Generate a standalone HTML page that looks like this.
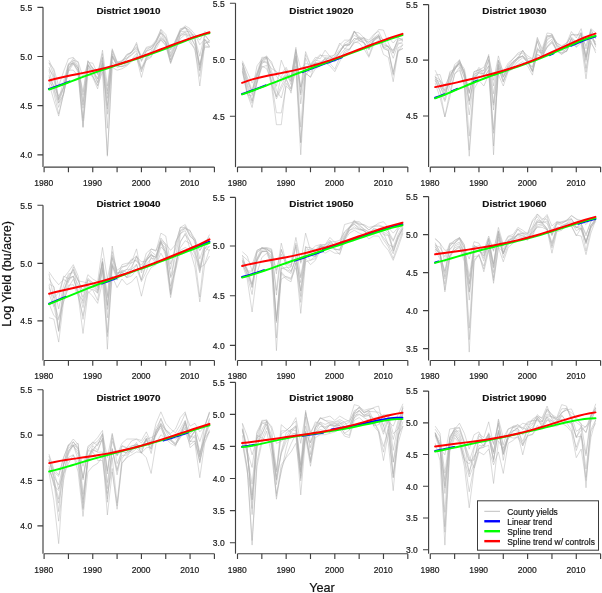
<!DOCTYPE html><html><head><meta charset="utf-8"><style>html,body{margin:0;padding:0;background:#fff;overflow:hidden}svg{display:block;filter:blur(0.3px)}</style></head><body>
<svg width="602" height="593" viewBox="0 0 602 593" font-family="&quot;Liberation Sans&quot;, sans-serif">
<rect width="602" height="593" fill="#fff"/>
<g>
<g fill="none" stroke="#acacac" stroke-width="0.45" stroke-linejoin="round">
<polyline points="48.97,67.14 53.83,79.39 58.7,103.21 63.56,88.16 68.43,65.33 73.3,63.29 78.16,70.9 83.03,104.96 87.89,65.12 92.76,69.16 97.63,79.1 102.49,57.11 107.36,114.28 112.22,57.2 117.09,65.29 121.96,64.07 126.82,59.13 131.69,54.99 136.55,50.85 141.42,68.09 146.29,57.19 151.15,51.19 156.02,40.13 160.88,31.91 165.75,39.52 170.62,55.79 175.48,42.21 180.35,29.9 185.21,25.8 190.08,28.67 194.95,34.4 199.81,44.7 204.68,39.5 209.54,46.55"/>
<polyline points="48.97,62.57 53.83,74.98 58.7,100.31 63.56,88.06 68.43,65.51 73.3,58.17 78.16,66.63 83.03,108.2 87.89,62.61 92.76,63.07 97.63,73.81 102.49,53.57 107.36,128.22 112.22,55.56 117.09,63.16 121.96,60.2 126.82,57.95 131.69,54.73 136.55,48.85 141.42,57.57 146.29,47.3 151.15,45.87 156.02,40.46 160.88,29.24 165.75,34.4 170.62,50 175.48,40.88 180.35,28.67 185.21,27.9 190.08,35.19 194.95,34.74 199.81,40.13 204.68,31.53 209.54,34.4"/>
<polyline points="48.97,69.16 53.83,76.12 58.7,99.61 63.56,81.29 68.43,63.62 73.3,60.59 78.16,68.32 83.03,95.12 87.89,60.77 92.76,69.26 97.63,82.22 102.49,60.76 107.36,94.15 112.22,53.79 117.09,65.06 121.96,63.56 126.82,58.72 131.69,51.86 136.55,47.76 141.42,56.31 146.29,50.13 151.15,46.76 156.02,42.55 160.88,32.95 165.75,42.66 170.62,59.7 175.48,44.89 180.35,31.06 185.21,26.94 190.08,32.5 194.95,39.57 199.81,70.08 204.68,35.19 209.54,40.8"/>
<polyline points="48.97,83.13 53.83,100.33 58.7,116.1 63.56,93.65 68.43,70.03 73.3,70.23 78.16,75.97 83.03,126.85 87.89,74.53 92.76,76.28 97.63,85.92 102.49,71.67 107.36,154.99 112.22,67.37 117.09,70.23 121.96,68.8 126.82,65.93 131.69,61.63 136.55,57.25 141.42,77.4 146.29,58.81 151.15,56.23 156.02,44.91 160.88,40.13 165.75,44.53 170.62,62.49 175.48,49.97 180.35,38.7 185.21,34.4 190.08,43 194.95,48.5 199.81,86 204.68,45.79 209.54,46.89"/>
<polyline points="48.97,76.95 53.83,85.89 58.7,96.2 63.56,87.34 68.43,64.29 73.3,62.83 78.16,68.01 83.03,91.72 87.89,60.83 92.76,68.02 97.63,73.1 102.49,57.91 107.36,90.83 112.22,50.04 117.09,62.33 121.96,61.49 126.82,54.55 131.69,52.78 136.55,42.43 141.42,61.54 146.29,51.28 151.15,49.23 156.02,44.21 160.88,36.5 165.75,42.27 170.62,57.02 175.48,44.75 180.35,31.75 185.21,31.23 190.08,31.83 194.95,36.95 199.81,67.95 204.68,39.02 209.54,46.6"/>
<polyline points="48.97,60.2 53.83,70.94 58.7,98.6 63.56,87.27 68.43,68.88 73.3,60.33 78.16,61.63 83.03,77.4 87.89,63.83 92.76,67.62 97.63,74.66 102.49,50.17 107.36,86 112.22,48.73 117.09,61.63 121.96,62.8 126.82,55.94 131.69,51.6 136.55,44.13 141.42,60.48 146.29,50.97 151.15,48.87 156.02,42.48 160.88,29.82 165.75,38.24 170.62,48.73 175.48,41.98 180.35,31.07 185.21,27.85 190.08,30.39 194.95,38.7 199.81,56.21 204.68,34.19 209.54,41.29"/>
<polyline points="48.97,70.53 53.83,87.89 58.7,102.83 63.56,94.6 68.43,67.82 73.3,63.41 78.16,70.34 83.03,120.95 87.89,65.36 92.76,71.59 97.63,78.58 102.49,62.61 107.36,156.23 112.22,61.79 117.09,67.42 121.96,66.05 126.82,63.43 131.69,59.42 136.55,56.39 141.42,68.97 146.29,60.2 151.15,57.33 156.02,46.06 160.88,38.14 165.75,43.08 170.62,62.36 175.48,47.36 180.35,33.96 185.21,32.11 190.08,35.97 194.95,44.87 199.81,71.11 204.68,43.63 209.54,40.99"/>
<polyline points="48.97,81.03 53.83,89.09 58.7,107.37 63.56,92.75 68.43,71.67 73.3,63.97 78.16,72.19 83.03,127.57 87.89,67.58 92.76,77.4 97.63,88.87 102.49,66.47 107.36,109.06 112.22,56.16 117.09,65.82 121.96,66.69 126.82,65.06 131.69,59.94 136.55,58.77 141.42,70.35 146.29,59.45 151.15,52.33 156.02,48.73 160.88,39.82 165.75,45.87 170.62,63.64 175.48,50.02 180.35,35.65 185.21,32.59 190.08,39.99 194.95,50.17 199.81,76.51 204.68,42.99 209.54,42.34"/>
<polyline points="48.97,75.16 53.83,93.16 58.7,113.9 63.56,94.13 68.43,69.92 73.3,62.21 78.16,68.22 83.03,118.28 87.89,65.37 92.76,76.06 97.63,85.4 102.49,63.14 107.36,105.6 112.22,55.88 117.09,66.1 121.96,66.52 126.82,64.86 131.69,59.7 136.55,53.33 141.42,71.91 146.29,57.37 151.15,52.82 156.02,45.61 160.88,38.73 165.75,42.44 170.62,59.85 175.48,50.17 180.35,35.43 185.21,34.24 190.08,36.36 194.95,45.49 199.81,64.69 204.68,47.3 209.54,47.3"/>
<polyline points="48.97,62.98 53.83,68.8 58.7,86 63.56,71.67 68.43,58.77 73.3,57.33 78.16,62.98 83.03,101.43 87.89,64.73 92.76,72.39 97.63,82.83 102.49,64.33 107.36,98.35 112.22,51.34 117.09,63.34 121.96,61.42 126.82,54.47 131.69,52.04 136.55,46.62 141.42,55.9 146.29,48.34 151.15,47.27 156.02,41.88 160.88,32.87 165.75,37.37 170.62,53.36 175.48,40.13 180.35,30.35 185.21,27.12 190.08,35.74 194.95,40.54 199.81,65.11 204.68,39.92 209.54,42.38"/>
</g>
<polyline points="48.87,89.02 50.62,88.49 52.36,87.89 54.11,87.29 55.85,86.66 57.59,86.02 59.34,85.38 61.08,84.73 62.82,84.07 64.57,83.4 66.31,82.74 68.06,82.07 69.8,81.4" fill="none" stroke="#0000ff" stroke-width="1.95" stroke-linecap="round"/>
<polyline points="49.1,89.52 54.63,87.61 60.16,85.58 65.69,83.48 71.23,81.35 76.76,79.23 82.29,77.14 87.82,75.09 93.35,73.1 98.88,71.17 104.41,69.29 109.94,67.46 115.47,65.66 121,63.88 126.53,62.1 132.06,60.32 137.59,58.5 143.12,56.66 148.66,54.76 154.19,52.8 159.72,50.79 165.25,48.72 170.78,46.6 176.31,44.46 181.84,42.31 187.37,40.19 192.9,38.15 198.43,36.25 203.96,34.55 209.49,33.13" fill="none" stroke="#00ff00" stroke-width="1.95" stroke-linejoin="round" stroke-linecap="round"/>
<polyline points="49.1,80.5 54.63,79 60.16,77.68 65.69,76.46 71.23,75.32 76.76,74.21 82.29,73.09 87.82,71.94 93.35,70.74 98.88,69.46 104.41,68.1 109.94,66.65 115.47,65.1 121,63.45 126.53,61.71 132.06,59.88 137.59,57.96 143.12,55.98 148.66,53.95 154.19,51.86 159.72,49.76 165.25,47.64 170.78,45.52 176.31,43.43 181.84,41.38 187.37,39.38 192.9,37.45 198.43,35.6 203.96,33.85 209.49,32.2" fill="none" stroke="#ff0000" stroke-width="1.95" stroke-linejoin="round" stroke-linecap="round"/>
<path d="M43,7.3V167.1" stroke="#404040" stroke-width="1.15" fill="none"/>
<path d="M44.1,167.1H214.41" stroke="#404040" stroke-width="1.15" fill="none"/>
<path d="M44.1,167.1v5.2M68.43,167.1v5.2M92.76,167.1v5.2M117.09,167.1v5.2M141.42,167.1v5.2M165.75,167.1v5.2M190.08,167.1v5.2M214.41,167.1v5.2M43,7.3h-5.6M43,56.45h-5.6M43,105.6h-5.6M43,154.8h-5.6" stroke="#404040" stroke-width="1.15" fill="none"/>
<g font-size="8.5" fill="#1a1a1a" stroke="#1a1a1a" stroke-width="0.2">
<text x="32.2" y="10.6" text-anchor="end">5.5</text>
<text x="32.2" y="59.75" text-anchor="end">5.0</text>
<text x="32.2" y="108.9" text-anchor="end">4.5</text>
<text x="32.2" y="158.1" text-anchor="end">4.0</text>
<text x="43.8" y="185.9" text-anchor="middle">1980</text>
<text x="92.46" y="185.9" text-anchor="middle">1990</text>
<text x="141.12" y="185.9" text-anchor="middle">2000</text>
<text x="189.78" y="185.9" text-anchor="middle">2010</text>
</g>
<text x="128.5" y="14.4" text-anchor="middle" font-size="9.9" font-weight="bold" fill="#111" stroke="#111" stroke-width="0.15">District 19010</text>
</g>
<g>
<g fill="none" stroke="#acacac" stroke-width="0.45" stroke-linejoin="round">
<polyline points="242.37,68.98 247.23,89.26 252.1,100.59 256.96,81.01 261.83,65.99 266.7,68.8 271.56,80.74 276.43,98.94 281.29,88.64 286.16,78.88 291.03,88.5 295.89,58.28 300.76,87 305.62,72.93 310.49,77.4 315.36,62.64 320.22,62.73 325.09,58.63 329.95,62.66 334.82,59.41 339.69,51.83 344.55,44.7 349.42,44.72 354.28,38.51 359.15,40.32 364.02,37.27 368.88,47.62 373.75,39.37 378.61,37.21 383.48,43.16 388.35,47.22 393.21,53.25 398.08,42.81 402.94,44.09"/>
<polyline points="242.37,66.7 247.23,84.22 252.1,94.6 256.96,76.1 261.83,61.52 266.7,57.32 271.56,70.93 276.43,90.56 281.29,98 286.16,79.03 291.03,93.17 295.89,65.87 300.76,142.72 305.62,69.55 310.49,72.19 315.36,65.89 320.22,65.66 325.09,57.73 329.95,58.93 334.82,54.47 339.69,43 344.55,48.75 349.42,49.44 354.28,40.7 359.15,37.24 364.02,42.6 368.88,49.4 373.75,40.32 378.61,35.55 383.48,48.71 388.35,50.49 393.21,75.38 398.08,47.76 402.94,45.05"/>
<polyline points="242.37,63.83 247.23,81.18 252.1,92.01 256.96,73.38 261.83,60.93 266.7,61.88 271.56,68.53 276.43,71.67 281.29,77.83 286.16,75.78 291.03,81.21 295.89,51.96 300.76,94.99 305.62,58.16 310.49,69.14 315.36,61.68 320.22,55.48 325.09,55.74 329.95,56.17 334.82,62.07 339.69,55.02 344.55,49.4 349.42,43.12 354.28,32 359.15,32.97 364.02,37.93 368.88,42.53 373.75,35.66 378.61,29.53 383.48,30.1 388.35,43.01 393.21,53.22 398.08,37.85 402.94,40.1"/>
<polyline points="242.37,60.77 247.23,71.67 252.1,83.13 256.96,73.08 261.83,57.33 266.7,57.17 271.56,61.63 276.43,76.48 281.29,81.46 286.16,72.79 291.03,79.75 295.89,49.19 300.76,103.89 305.62,66.91 310.49,65.62 315.36,59.99 320.22,61.43 325.09,60.88 329.95,55.9 334.82,59.94 339.69,52.47 344.55,43.25 349.42,40.42 354.28,35.26 359.15,38.37 364.02,38.11 368.88,40.13 373.75,34.4 378.61,31.28 383.48,41.62 388.35,37.27 393.21,43 398.08,37.27 402.94,40.86"/>
<polyline points="242.37,63.36 247.23,85.67 252.1,101.25 256.96,82.9 261.83,64.21 266.7,58.16 271.56,75.13 276.43,96.55 281.29,76.46 286.16,69.57 291.03,81.69 295.89,56.37 300.76,87.34 305.62,51.6 310.49,64.55 315.36,63.39 320.22,63.23 325.09,59.08 329.95,60.95 334.82,56.19 339.69,49.62 344.55,45.3 349.42,42.56 354.28,31.44 359.15,36.75 364.02,38.96 368.88,44.55 373.75,37.78 378.61,34.11 383.48,47.42 388.35,45.98 393.21,58.28 398.08,44.08 402.94,41.58"/>
<polyline points="242.37,62.56 247.23,79.11 252.1,92.22 256.96,65.93 261.83,59.27 266.7,55.9 271.56,63.96 276.43,72.41 281.29,74.03 286.16,67.37 291.03,77.76 295.89,50.32 300.76,68.8 305.62,63.58 310.49,64.5 315.36,57.33 320.22,58.74 325.09,50.17 329.95,56.37 334.82,54.91 339.69,44.82 344.55,40.13 349.42,40.13 354.28,30.98 359.15,40.57 364.02,42.4 368.88,49.37 373.75,40.67 378.61,37.8 383.48,45.02 388.35,46.27 393.21,50.17 398.08,40.86 402.94,39.65"/>
<polyline points="242.37,70.76 247.23,94.6 252.1,96.08 256.96,78.23 261.83,59.37 266.7,56.78 271.56,82.32 276.43,112.7 281.29,112.95 286.16,86 291.03,90.8 295.89,68.8 300.76,154.8 305.62,73.29 310.49,77 315.36,68.8 320.22,65.93 325.09,62.75 329.95,65.93 334.82,71.67 339.69,61.63 344.55,51.16 349.42,49.01 354.28,43 359.15,40.64 364.02,43.11 368.88,56.01 373.75,41.06 378.61,35.59 383.48,46.77 388.35,49.22 393.21,74.17 398.08,51.41 402.94,44.65"/>
<polyline points="242.37,67.79 247.23,92.62 252.1,103.34 256.96,81.49 261.83,62.17 266.7,62.72 271.56,74.92 276.43,86.29 281.29,60.2 286.16,71.99 291.03,84.59 295.89,55.59 300.76,127.14 305.62,66.69 310.49,66.36 315.36,62.98 320.22,65.76 325.09,61.35 329.95,60.68 334.82,57.35 339.69,51.87 344.55,45.55 349.42,45.04 354.28,30.96 359.15,37.75 364.02,42.95 368.88,49.36 373.75,38.66 378.61,36.55 383.48,47.85 388.35,50.71 393.21,71.61 398.08,50.21 402.94,48.73"/>
<polyline points="242.37,62.72 247.23,76.75 252.1,90.35 256.96,75.04 261.83,60.78 266.7,57.54 271.56,84.5 276.43,96.79 281.29,85.78 286.16,75.27 291.03,77.4 295.89,47.3 300.76,93.25 305.62,54.48 310.49,65.37 315.36,59.31 320.22,54.47 325.09,58.22 329.95,57.82 334.82,58.84 339.69,51.71 344.55,44.97 349.42,45.1 354.28,38.41 359.15,38.89 364.02,40.2 368.88,42.19 373.75,38.57 378.61,35.46 383.48,40 388.35,47.74 393.21,50.82 398.08,39.1 402.94,38.7"/>
<polyline points="242.37,71.67 247.23,93.69 252.1,107.5 256.96,83.13 261.83,67.37 266.7,65.26 271.56,86 276.43,124.7 281.29,124.7 286.16,83.3 291.03,89.01 295.89,59.84 300.76,142.57 305.62,75.97 310.49,67.28 315.36,64.11 320.22,65.69 325.09,63.07 329.95,63.32 334.82,69.25 339.69,57.6 344.55,53.03 349.42,50.17 354.28,42.03 359.15,43 364.02,48.73 368.88,57.33 373.75,44.43 378.61,40.13 383.48,54.47 388.35,57.33 393.21,81.7 398.08,51.6 402.94,48.25"/>
</g>
<polyline points="242.1,94.01 244.07,93.32 246.03,92.64 247.99,91.95 249.96,91.24 251.92,90.53 253.88,89.82 255.85,89.09 257.81,88.36 259.78,87.62 261.74,86.87 263.7,86.13 265.67,85.38" fill="none" stroke="#0000ff" stroke-width="1.95" stroke-linecap="round"/>
<polyline points="302.36,72.21 305.66,70.95 308.95,69.7 312.25,68.44 315.55,67.19 318.84,65.95 322.14,64.7 325.44,63.46 328.73,62.22 332.03,60.98 335.33,59.74 338.62,58.5 341.92,57.27" fill="none" stroke="#0000ff" stroke-width="1.95" stroke-linecap="round"/>
<polyline points="242.1,94.41 247.63,92.48 253.16,90.48 258.69,88.43 264.23,86.33 269.76,84.21 275.29,82.07 280.82,79.92 286.35,77.78 291.88,75.64 297.41,73.51 302.94,71.39 308.47,69.28 314,67.18 319.53,65.08 325.06,63 330.59,60.92 336.12,58.84 341.66,56.77 347.19,54.7 352.72,52.63 358.25,50.57 363.78,48.51 369.31,46.47 374.84,44.45 380.37,42.46 385.9,40.51 391.43,38.62 396.96,36.81 402.49,35.09" fill="none" stroke="#00ff00" stroke-width="1.95" stroke-linejoin="round" stroke-linecap="round"/>
<polyline points="242.1,82.83 247.63,80.83 253.16,79.16 258.69,77.72 264.23,76.46 269.76,75.3 275.29,74.2 280.82,73.11 286.35,72 291.88,70.84 297.41,69.6 302.94,68.27 308.47,66.84 314,65.3 319.53,63.65 325.06,61.9 330.59,60.05 336.12,58.11 341.66,56.1 347.19,54.02 352.72,51.91 358.25,49.76 363.78,47.61 369.31,45.48 374.84,43.37 380.37,41.31 385.9,39.31 391.43,37.39 396.96,35.57 402.49,33.84" fill="none" stroke="#ff0000" stroke-width="1.95" stroke-linejoin="round" stroke-linecap="round"/>
<path d="M235.5,3.2V167.1" stroke="#404040" stroke-width="1.15" fill="none"/>
<path d="M237.5,167.1H407.81" stroke="#404040" stroke-width="1.15" fill="none"/>
<path d="M237.5,167.1v5.2M261.83,167.1v5.2M286.16,167.1v5.2M310.49,167.1v5.2M334.82,167.1v5.2M359.15,167.1v5.2M383.48,167.1v5.2M407.81,167.1v5.2M235.5,3.2h-5.6M235.5,59.5h-5.6M235.5,116.2h-5.6" stroke="#404040" stroke-width="1.15" fill="none"/>
<g font-size="8.5" fill="#1a1a1a" stroke="#1a1a1a" stroke-width="0.2">
<text x="224.7" y="6.5" text-anchor="end">5.5</text>
<text x="224.7" y="62.8" text-anchor="end">5.0</text>
<text x="224.7" y="119.5" text-anchor="end">4.5</text>
<text x="237.2" y="185.9" text-anchor="middle">1980</text>
<text x="285.86" y="185.9" text-anchor="middle">1990</text>
<text x="334.52" y="185.9" text-anchor="middle">2000</text>
<text x="383.18" y="185.9" text-anchor="middle">2010</text>
</g>
<text x="321.45" y="14.4" text-anchor="middle" font-size="9.9" font-weight="bold" fill="#111" stroke="#111" stroke-width="0.15">District 19020</text>
</g>
<g>
<g fill="none" stroke="#acacac" stroke-width="0.45" stroke-linejoin="round">
<polyline points="435.17,70.23 440.03,80.45 444.9,86 449.76,75.85 454.63,68.39 459.5,59.63 464.36,73.67 469.23,91.73 474.09,71.72 478.96,69.82 483.83,74.66 488.69,59.34 493.56,93.78 498.42,61.37 503.29,76.89 508.16,65.13 513.02,58.77 517.89,53.03 522.75,50.93 527.62,55.9 532.49,58.77 537.35,37.27 542.22,51.61 547.08,35.54 551.95,35.64 556.82,43 561.68,46.61 566.55,43.14 571.41,31.53 576.28,37.98 581.15,28.67 586.01,48.98 590.88,29.74 595.74,38.42"/>
<polyline points="435.17,78.52 440.03,91.33 444.9,101.53 449.76,85.81 454.63,69.16 459.5,62.84 464.36,78.39 469.23,136.14 474.09,81.95 478.96,71.7 483.83,70.66 488.69,54.47 493.56,146.02 498.42,64.89 503.29,80.36 508.16,70.89 513.02,63.54 517.89,59.18 522.75,55.64 527.62,61.63 532.49,71.32 537.35,54.39 542.22,57.33 547.08,43.13 551.95,39.33 556.82,51.04 561.68,54.47 566.55,50.76 571.41,39.48 576.28,44.81 581.15,37.96 586.01,59.94 590.88,37.48 595.74,45.39"/>
<polyline points="435.17,79.48 440.03,81.6 444.9,95.63 449.76,82.14 454.63,64.5 459.5,60.32 464.36,72.63 469.23,104.77 474.09,75.66 478.96,67.37 483.83,73.5 488.69,60.18 493.56,103.14 498.42,60.38 503.29,77.15 508.16,67.67 513.02,61.67 517.89,57.74 522.75,56.35 527.62,62.67 532.49,66.95 537.35,51.62 542.22,52.99 547.08,37.16 551.95,34.54 556.82,47.4 561.68,50.83 566.55,44.77 571.41,34.59 576.28,35.54 581.15,32.86 586.01,56.96 590.88,31.85 595.74,47.27"/>
<polyline points="435.17,75.09 440.03,74.53 444.9,91.02 449.76,83.26 454.63,69.77 459.5,61.92 464.36,68.8 469.23,93.6 474.09,71.67 478.96,69.75 483.83,70.68 488.69,56 493.56,85.92 498.42,59.91 503.29,71.67 508.16,63.07 513.02,58.89 517.89,54.49 522.75,52.9 527.62,60.24 532.49,71.09 537.35,38.57 542.22,48.73 547.08,32.97 551.95,33.83 556.82,43 561.68,45.87 566.55,43 571.41,36.89 576.28,42.19 581.15,36.38 586.01,45.87 590.88,28.67 595.74,32.97"/>
<polyline points="435.17,76.87 440.03,79.88 444.9,93.32 449.76,78.51 454.63,67.12 459.5,65.57 464.36,77.37 469.23,114.96 474.09,78.45 478.96,72.39 483.83,77.34 488.69,70.3 493.56,110.04 498.42,68.37 503.29,81.7 508.16,69.71 513.02,64.97 517.89,58.31 522.75,55.68 527.62,62.53 532.49,72.06 537.35,54.47 542.22,56.91 547.08,39.6 551.95,34.51 556.82,45.93 561.68,50.12 566.55,51.6 571.41,41.14 576.28,43.31 581.15,33.24 586.01,61.61 590.88,33.29 595.74,44.42"/>
<polyline points="435.17,80.65 440.03,90.6 444.9,116.78 449.76,92.26 454.63,74.53 459.5,67.22 464.36,86 469.23,150.12 474.09,84.53 478.96,75.72 483.83,78.93 488.69,69.76 493.56,129.62 498.42,67.43 503.29,82.18 508.16,68.62 513.02,66.96 517.89,61.37 522.75,57.81 527.62,62.48 532.49,67.27 537.35,49.05 542.22,53.59 547.08,46.39 551.95,41.71 556.82,51.6 561.68,52.94 566.55,48.7 571.41,38.85 576.28,47.3 581.15,43 586.01,78.83 590.88,41.04 595.74,53.03"/>
<polyline points="435.17,80.55 440.03,85.79 444.9,90.23 449.76,73.4 454.63,70.06 459.5,61.2 464.36,73.83 469.23,92.95 474.09,74.27 478.96,71.85 483.83,74.91 488.69,66.11 493.56,154.8 498.42,64.14 503.29,75.37 508.16,67.75 513.02,62.07 517.89,58.9 522.75,50.55 527.62,58.33 532.49,59.28 537.35,40.62 542.22,57.3 547.08,47.09 551.95,41.25 556.82,49.32 561.68,52.76 566.55,51.55 571.41,38.16 576.28,41.93 581.15,32.46 586.01,57.61 590.88,29.66 595.74,38.7"/>
<polyline points="435.17,83.13 440.03,97.47 444.9,116.96 449.76,97.47 454.63,73.5 459.5,70.23 464.36,85.21 469.23,156.23 474.09,88.87 478.96,80.27 483.83,86 488.69,74.53 493.56,133.3 498.42,74.53 503.29,86 508.16,71.67 513.02,68.8 517.89,64.5 522.75,61.63 527.62,65.93 532.49,75.11 537.35,47.64 542.22,56.06 547.08,47.3 551.95,43 556.82,50.02 561.68,54.06 566.55,50.71 571.41,43 576.28,46.87 581.15,39.35 586.01,68.22 590.88,43 595.74,50.39"/>
<polyline points="435.17,76.62 440.03,86.37 444.9,95.96 449.76,76.91 454.63,66.47 459.5,63.96 464.36,70.71 469.23,101.27 474.09,77.51 478.96,72.95 483.83,73.79 488.69,65.66 493.56,105.25 498.42,65.95 503.29,77.34 508.16,68.44 513.02,63.12 517.89,57.08 522.75,56.65 527.62,60.51 532.49,70.99 537.35,49.89 542.22,51.1 547.08,35.87 551.95,37.11 556.82,45.37 561.68,48.34 566.55,44.36 571.41,34.55 576.28,34.4 581.15,35.65 586.01,72.11 590.88,38.06 595.74,41.82"/>
<polyline points="435.17,76.53 440.03,85.26 444.9,99.82 449.76,71.67 454.63,69.08 459.5,62.92 464.36,73.95 469.23,100.58 474.09,77.98 478.96,69.73 483.83,67.37 488.69,56.13 493.56,80.27 498.42,55.9 503.29,73.38 508.16,66.39 513.02,61.41 517.89,57.74 522.75,50.17 527.62,60.35 532.49,60.55 537.35,41.58 542.22,53.79 547.08,40.02 551.95,36.6 556.82,44.12 561.68,49.51 566.55,48.4 571.41,38.34 576.28,44.46 581.15,34.01 586.01,56.17 590.88,33.11 595.74,45.03"/>
</g>
<polyline points="435.1,97.79 435.87,97.51 436.64,97.22 437.41,96.94 438.18,96.66 438.95,96.37 439.72,96.09 440.49,95.8 441.26,95.5 442.03,95.19 442.79,94.89 443.56,94.58 444.33,94.27" fill="none" stroke="#0000ff" stroke-width="1.95" stroke-linecap="round"/>
<polyline points="451.79,91.2 452.26,91 452.74,90.8 453.22,90.6 453.7,90.39 454.18,90.19 454.65,89.99 455.13,89.79 455.61,89.58 456.09,89.38 456.56,89.18 457.04,88.98 457.52,88.78" fill="none" stroke="#0000ff" stroke-width="1.95" stroke-linecap="round"/>
<polyline points="473.57,82.12 473.93,81.97 474.29,81.83 474.65,81.69 475.01,81.55 475.37,81.41 475.72,81.27 476.08,81.13 476.44,80.99 476.8,80.85 477.16,80.7 477.51,80.56 477.87,80.42" fill="none" stroke="#0000ff" stroke-width="1.95" stroke-linecap="round"/>
<polyline points="549.25,55.2 549.61,55.05 549.97,54.9 550.33,54.75 550.69,54.6 551.04,54.45 551.4,54.3 551.76,54.15 552.12,53.99 552.48,53.84 552.84,53.68 553.19,53.53 553.55,53.37" fill="none" stroke="#0000ff" stroke-width="1.95" stroke-linecap="round"/>
<polyline points="571.04,45.78 573.07,44.88 575.1,44.01 577.13,43.14 579.16,42.28 581.19,41.47 583.22,40.65 585.25,39.87 587.28,39.14 589.31,38.41 591.35,37.76 593.38,37.16 595.41,36.55" fill="none" stroke="#0000ff" stroke-width="1.95" stroke-linecap="round"/>
<polyline points="435.1,98.29 440.63,96.25 446.16,94.04 451.69,91.74 457.23,89.4 462.76,87.06 468.29,84.76 473.82,82.52 479.35,80.34 484.88,78.24 490.41,76.2 495.94,74.21 501.47,72.27 507,70.36 512.53,68.45 518.06,66.52 523.59,64.56 529.12,62.55 534.66,60.48 540.19,58.32 545.72,56.09 551.25,53.77 556.78,51.38 562.31,48.95 567.84,46.49 573.37,44.05 578.9,41.69 584.43,39.47 589.96,37.48 595.49,35.82" fill="none" stroke="#00ff00" stroke-width="1.95" stroke-linejoin="round" stroke-linecap="round"/>
<polyline points="435.1,87.12 440.63,85.99 446.16,84.81 451.69,83.59 457.23,82.34 462.76,81.07 468.29,79.77 473.82,78.44 479.35,77.08 484.88,75.67 490.41,74.22 495.94,72.71 501.47,71.12 507,69.46 512.53,67.7 518.06,65.84 523.59,63.87 529.12,61.8 534.66,59.62 540.19,57.33 545.72,54.95 551.25,52.48 556.78,49.95 562.31,47.38 567.84,44.81 573.37,42.27 578.9,39.83 584.43,37.52 589.96,35.42 595.49,33.62" fill="none" stroke="#ff0000" stroke-width="1.95" stroke-linejoin="round" stroke-linecap="round"/>
<path d="M428.6,4.6V167.1" stroke="#404040" stroke-width="1.15" fill="none"/>
<path d="M430.3,167.1H600.61" stroke="#404040" stroke-width="1.15" fill="none"/>
<path d="M430.3,167.1v5.2M454.63,167.1v5.2M478.96,167.1v5.2M503.29,167.1v5.2M527.62,167.1v5.2M551.95,167.1v5.2M576.28,167.1v5.2M600.61,167.1v5.2M428.6,4.6h-5.6M428.6,60.1h-5.6M428.6,116h-5.6" stroke="#404040" stroke-width="1.15" fill="none"/>
<g font-size="8.5" fill="#1a1a1a" stroke="#1a1a1a" stroke-width="0.2">
<text x="417.8" y="7.9" text-anchor="end">5.5</text>
<text x="417.8" y="63.4" text-anchor="end">5.0</text>
<text x="417.8" y="119.3" text-anchor="end">4.5</text>
<text x="430" y="185.9" text-anchor="middle">1980</text>
<text x="478.66" y="185.9" text-anchor="middle">1990</text>
<text x="527.32" y="185.9" text-anchor="middle">2000</text>
<text x="575.98" y="185.9" text-anchor="middle">2010</text>
</g>
<text x="514.4" y="14.4" text-anchor="middle" font-size="9.9" font-weight="bold" fill="#111" stroke="#111" stroke-width="0.15">District 19030</text>
</g>
<g>
<g fill="none" stroke="#acacac" stroke-width="0.45" stroke-linejoin="round">
<polyline points="48.97,293.83 53.83,306.65 58.7,298.68 63.56,276.13 68.43,278.49 73.3,269 78.16,290.09 83.03,307.62 87.89,286.51 92.76,286.5 97.63,292.95 102.49,270.58 107.36,317.83 112.22,263.44 117.09,274.47 121.96,270.07 126.82,272.36 131.69,266.52 136.55,256.94 141.42,261.8 146.29,261.28 151.15,254.58 156.02,257.94 160.88,241.81 165.75,251.46 170.62,293.82 175.48,262.98 180.35,247.65 185.21,240.74 190.08,243.56 194.95,249.77 199.81,271.27 204.68,248.08 209.54,250.6"/>
<polyline points="48.97,273.78 53.83,297.93 58.7,292.69 63.56,277.89 68.43,271.83 73.3,264.67 78.16,276.13 83.03,303.41 87.89,284.89 92.76,284.13 97.63,284.57 102.49,263.15 107.36,309.47 112.22,258.37 117.09,277.14 121.96,264.67 126.82,263.23 131.69,262.97 136.55,259.81 141.42,269.82 146.29,253.2 151.15,248.9 156.02,251.26 160.88,233.13 165.75,236 170.62,264.15 175.48,249.02 180.35,230.51 185.21,228.76 190.08,230.96 194.95,238.87 199.81,250.71 204.68,242.96 209.54,236.94"/>
<polyline points="48.97,317.7 53.83,319.13 58.7,342.07 63.56,301.93 68.43,287.6 73.3,279.15 78.16,292.05 83.03,319.34 87.89,291.34 92.76,296.2 97.63,303.37 102.49,281.87 107.36,336.64 112.22,276.13 117.09,287.6 121.96,279 126.82,284.73 131.69,281.87 136.55,276.13 141.42,296.2 146.29,276.13 151.15,267.53 156.02,264.67 160.88,253.2 165.75,261.8 170.62,297.63 175.48,270.4 180.35,250.33 185.21,247.47 190.08,250.33 194.95,267.53 199.81,301.93 204.68,264.67 209.54,256.07"/>
<polyline points="48.97,304.98 53.83,301.54 58.7,318.6 63.56,301.53 68.43,285.19 73.3,284.73 78.16,296.2 83.03,315.72 87.89,288.05 92.76,289.87 97.63,300.31 102.49,269.47 107.36,332.57 112.22,265.56 117.09,276.73 121.96,272.64 126.82,277.7 131.69,275.89 136.55,269.59 141.42,280.23 146.29,264.28 151.15,258.53 156.02,258.92 160.88,243.12 165.75,248 170.62,277.61 175.48,268.12 180.35,241.31 185.21,234.66 190.08,241.55 194.95,252.73 199.81,267.93 204.68,264.39 209.54,249.19"/>
<polyline points="48.97,271.83 53.83,279 58.7,284.73 63.56,279.54 68.43,282.34 73.3,266.81 78.16,280.53 83.03,290.87 87.89,274.7 92.76,279 97.63,281.87 102.49,247.47 107.36,279 112.22,255.29 117.09,270.4 121.96,266.53 126.82,266.05 131.69,259.97 136.55,256.07 141.42,269.83 146.29,260.37 151.15,249.06 156.02,250.33 160.88,239.75 165.75,243.89 170.62,250.33 175.48,244.74 180.35,227.48 185.21,224.53 190.08,234.56 194.95,238.91 199.81,258.91 204.68,244.47 209.54,234.57"/>
<polyline points="48.97,284.75 53.83,305.01 58.7,331.37 63.56,297.7 68.43,280.55 73.3,276.33 78.16,294.1 83.03,300.78 87.89,279.63 92.76,282.87 97.63,290.08 102.49,261.21 107.36,297.67 112.22,251.53 117.09,272.95 121.96,272.64 126.82,269.32 131.69,269.47 136.55,264.06 141.42,279.76 146.29,261.09 151.15,253.59 156.02,261.82 160.88,242.51 165.75,256.04 170.62,291.25 175.48,241.73 180.35,233.62 185.21,230.63 190.08,242.12 194.95,254.9 199.81,272.88 204.68,247.42 209.54,246.76"/>
<polyline points="48.97,283.92 53.83,286.69 58.7,308.87 63.56,285.75 68.43,273.88 73.3,272.45 78.16,280.82 83.03,281.87 87.89,283.22 92.76,283.17 97.63,287.79 102.49,261.86 107.36,349.23 112.22,266.3 117.09,280.1 121.96,271.48 126.82,276.92 131.69,268.12 136.55,255.84 141.42,270.63 146.29,259.4 151.15,255.28 156.02,256.93 160.88,240.81 165.75,253.33 170.62,286.31 175.48,270.29 180.35,234.04 185.21,227.32 190.08,236.36 194.95,240.75 199.81,269.39 204.68,249.18 209.54,241.03"/>
<polyline points="48.97,278.44 53.83,287.06 58.7,331.31 63.56,291.09 68.43,276.01 73.3,270.12 78.16,279.77 83.03,292.55 87.89,278.38 92.76,282.61 97.63,286.59 102.49,258.46 107.36,295.68 112.22,246.03 117.09,274.78 121.96,267.59 126.82,265.04 131.69,258.93 136.55,261.41 141.42,264.95 146.29,258.11 151.15,251.45 156.02,255.59 160.88,241.24 165.75,245.49 170.62,269.29 175.48,244.4 180.35,227.4 185.21,227.95 190.08,230.27 194.95,243.38 199.81,250.33 204.68,241.73 209.54,242.79"/>
<polyline points="48.97,287.63 53.83,297.87 58.7,329.88 63.56,292.33 68.43,278.21 73.3,276.29 78.16,284.36 83.03,297.24 87.89,280.24 92.76,284.51 97.63,291.43 102.49,262.14 107.36,305.07 112.22,257.24 117.09,273.33 121.96,271.35 126.82,269.58 131.69,261.97 136.55,248.9 141.42,272.92 146.29,259.42 151.15,255.83 156.02,257.24 160.88,237.95 165.75,244.55 170.62,276.35 175.48,256.92 180.35,231.01 185.21,226.27 190.08,236.28 194.95,240.14 199.81,266.63 204.68,245.51 209.54,243.3"/>
<polyline points="48.97,303.55 53.83,315.47 58.7,319.96 63.56,291.45 68.43,278.72 73.3,276.2 78.16,295.36 83.03,333.47 87.89,293.33 92.76,289.03 97.63,293.26 102.49,267.47 107.36,305.71 112.22,264.69 117.09,277.28 121.96,271.52 126.82,277.75 131.69,272.71 136.55,264.77 141.42,281.56 146.29,271.78 151.15,256.99 156.02,263.5 160.88,246.96 165.75,251.69 170.62,294.92 175.48,266.03 180.35,242.18 185.21,233.29 190.08,249.09 194.95,258.66 199.81,297 204.68,252.36 209.54,245.74"/>
</g>
<polyline points="49.1,303.59 50.49,303.03 51.88,302.47 53.27,301.91 54.66,301.35 56.05,300.78 57.44,300.21 58.83,299.64 60.23,299.07 61.62,298.5 63.01,297.93 64.4,297.36 65.79,296.79" fill="none" stroke="#0000ff" stroke-width="1.95" stroke-linecap="round"/>
<polyline points="101.91,283.55 103.12,283.09 104.34,282.63 105.56,282.18 106.78,281.72 108,281.27 109.22,280.82 110.44,280.36 111.65,279.92 112.87,279.47 114.09,279.02 115.31,278.57 116.53,278.13" fill="none" stroke="#0000ff" stroke-width="1.95" stroke-linecap="round"/>
<polyline points="185.04,251.12 187.07,250.33 189.1,249.54 191.13,248.74 193.16,247.95 195.19,247.15 197.22,246.35 199.25,245.56 201.28,244.76 203.31,243.97 205.35,243.18 207.38,242.39 209.41,241.61" fill="none" stroke="#0000ff" stroke-width="1.95" stroke-linecap="round"/>
<polyline points="49.1,304.09 54.63,301.86 60.16,299.6 65.69,297.32 71.23,295.06 76.76,292.81 82.29,290.58 87.82,288.39 93.35,286.23 98.88,284.1 104.41,282.01 109.94,279.95 115.47,277.91 121,275.9 126.53,273.91 132.06,271.92 137.59,269.94 143.12,267.96 148.66,265.96 154.19,263.96 159.72,261.93 165.25,259.88 170.78,257.8 176.31,255.69 181.84,253.56 187.37,251.41 192.9,249.25 198.43,247.08 203.96,244.91 209.49,242.77" fill="none" stroke="#00ff00" stroke-width="1.95" stroke-linejoin="round" stroke-linecap="round"/>
<polyline points="49.1,293.73 54.63,292.28 60.16,290.96 65.69,289.72 71.23,288.52 76.76,287.31 82.29,286.07 87.82,284.77 93.35,283.4 98.88,281.94 104.41,280.4 109.94,278.77 115.47,277.04 121,275.24 126.53,273.35 132.06,271.4 137.59,269.38 143.12,267.32 148.66,265.21 154.19,263.07 159.72,260.91 165.25,258.72 170.78,256.5 176.31,254.26 181.84,251.98 187.37,249.66 192.9,247.26 198.43,244.77 203.96,242.14 209.49,239.35" fill="none" stroke="#ff0000" stroke-width="1.95" stroke-linejoin="round" stroke-linecap="round"/>
<path d="M43,205.2V360.5" stroke="#404040" stroke-width="1.15" fill="none"/>
<path d="M44.1,360.5H214.41" stroke="#404040" stroke-width="1.15" fill="none"/>
<path d="M44.1,360.5v5.2M68.43,360.5v5.2M92.76,360.5v5.2M117.09,360.5v5.2M141.42,360.5v5.2M165.75,360.5v5.2M190.08,360.5v5.2M214.41,360.5v5.2M43,205.2h-5.6M43,263.3h-5.6M43,320.9h-5.6" stroke="#404040" stroke-width="1.15" fill="none"/>
<g font-size="8.5" fill="#1a1a1a" stroke="#1a1a1a" stroke-width="0.2">
<text x="32.2" y="208.5" text-anchor="end">5.5</text>
<text x="32.2" y="266.6" text-anchor="end">5.0</text>
<text x="32.2" y="324.2" text-anchor="end">4.5</text>
<text x="43.8" y="379.3" text-anchor="middle">1980</text>
<text x="92.46" y="379.3" text-anchor="middle">1990</text>
<text x="141.12" y="379.3" text-anchor="middle">2000</text>
<text x="189.78" y="379.3" text-anchor="middle">2010</text>
</g>
<text x="128.5" y="207.1" text-anchor="middle" font-size="9.9" font-weight="bold" fill="#111" stroke="#111" stroke-width="0.15">District 19040</text>
</g>
<g>
<g fill="none" stroke="#acacac" stroke-width="0.45" stroke-linejoin="round">
<polyline points="242.37,259.89 247.23,269.65 252.1,286.99 256.96,252.25 261.83,248.51 266.7,248.21 271.56,250.03 276.43,290.52 281.29,249.11 286.16,265.92 291.03,271.05 295.89,259.7 300.76,282.66 305.62,255.17 310.49,255.39 315.36,256.84 320.22,248.2 325.09,248.85 329.95,245.98 334.82,249.14 339.69,250.05 344.55,239.41 349.42,228.61 354.28,224.08 359.15,227.59 364.02,231.31 368.88,234.41 373.75,232.04 378.61,229.19 383.48,232.76 388.35,244.49 393.21,247.01 398.08,234.52 402.94,225.18"/>
<polyline points="242.37,258.31 247.23,268.77 252.1,284.27 256.96,260.57 261.83,251.45 266.7,251.36 271.56,258.04 276.43,320.71 281.29,268.34 286.16,267.45 291.03,267.17 295.89,245.08 300.76,296.54 305.62,254.06 310.49,260.33 315.36,258.63 320.22,247.65 325.09,245.67 329.95,240.13 334.82,246.96 339.69,245.75 344.55,236.55 349.42,228.18 354.28,221.79 359.15,224.69 364.02,229 368.88,232.38 373.75,232.32 378.61,229.53 383.48,234.73 388.35,235.53 393.21,251.39 398.08,239.41 402.94,228.82"/>
<polyline points="242.37,260.52 247.23,271.57 252.1,273.91 256.96,252.37 261.83,248.39 266.7,248.78 271.56,253.5 276.43,322.61 281.29,267.99 286.16,269.49 291.03,271.61 295.89,258.59 300.76,277.95 305.62,252.51 310.49,255.22 315.36,256.14 320.22,246.15 325.09,246.65 329.95,244.01 334.82,248.78 339.69,250.25 344.55,236.58 349.42,228.14 354.28,220.85 359.15,225.85 364.02,229.4 368.88,231.69 373.75,229.35 378.61,229.33 383.48,232 388.35,234.91 393.21,248.63 398.08,237.1 402.94,227.86"/>
<polyline points="242.37,255.64 247.23,259.97 252.1,264.67 256.96,250.33 261.83,247.89 266.7,248.88 271.56,251.82 276.43,295.07 281.29,254.18 286.16,263.96 291.03,266.48 295.89,246.92 300.76,276.49 305.62,247.43 310.49,247.47 315.36,251.81 320.22,245.44 325.09,244.6 329.95,241.74 334.82,241.73 339.69,240.3 344.55,231.95 349.42,227.17 354.28,220.23 359.15,224.35 364.02,224.53 368.88,227.4 373.75,226.27 378.61,223.1 383.48,221.67 388.35,227.4 393.21,233.13 398.08,227.4 402.94,221.67"/>
<polyline points="242.37,264.67 247.23,279 252.1,311.97 256.96,273.27 261.83,257.5 266.7,253.2 271.56,264.67 276.43,350.67 281.29,271.94 286.16,277.24 291.03,279.38 295.89,267.53 300.76,291.09 305.62,258.72 310.49,264.67 315.36,260.37 320.22,250.33 325.09,253.2 329.95,250.33 334.82,253.2 339.69,253.4 344.55,240.3 349.42,233.13 354.28,230.27 359.15,233.13 364.02,234.57 368.88,238.87 373.75,236 378.61,236 383.48,244.6 388.35,250.33 393.21,260.37 398.08,247.47 402.94,233.13"/>
<polyline points="242.37,255.09 247.23,272.68 252.1,284.52 256.96,258.77 261.83,250.17 266.7,249.64 271.56,251.75 276.43,270.4 281.29,249.91 286.16,261.8 291.03,265.1 295.89,243.22 300.76,263.31 305.62,250.4 310.49,248.85 315.36,249.39 320.22,244.6 325.09,247.73 329.95,243.11 334.82,245.58 339.69,244.49 344.55,224.53 349.42,223.1 354.28,221.67 359.15,221.67 364.02,225.44 368.88,229.96 373.75,226.62 378.61,226.18 383.48,226.99 388.35,230.38 393.21,250.79 398.08,237.03 402.94,226.83"/>
<polyline points="242.37,260.81 247.23,270.83 252.1,271.23 256.96,259.28 261.83,251.53 266.7,250.96 271.56,263.4 276.43,338.03 281.29,273.37 286.16,279 291.03,281.87 295.89,262.67 300.76,302.41 305.62,258.78 310.49,252.33 315.36,250.86 320.22,246.5 325.09,249.48 329.95,245.64 334.82,249.62 339.69,249.24 344.55,238.08 349.42,230.12 354.28,228.62 359.15,229.21 364.02,229.71 368.88,235.76 373.75,234.3 378.61,231.64 383.48,237.54 388.35,244.44 393.21,253.82 398.08,236.45 402.94,228.69"/>
<polyline points="242.37,264.22 247.23,273.77 252.1,287.82 256.96,261.18 261.83,251.95 266.7,251.17 271.56,260.5 276.43,320.74 281.29,279 286.16,276.38 291.03,278.3 295.89,262.93 300.76,313.4 305.62,261.8 310.49,260.21 315.36,256.31 320.22,246.37 325.09,248.61 329.95,248.01 334.82,249.32 339.69,254.63 344.55,239.43 349.42,230.4 354.28,226.69 359.15,229.79 364.02,230.68 368.88,235.87 373.75,231.72 378.61,229.97 383.48,239.93 388.35,246.92 393.21,258.39 398.08,244.19 402.94,230.55"/>
<polyline points="242.37,262.13 247.23,275.67 252.1,294.5 256.96,258.44 261.83,247.47 266.7,250.21 271.56,256.15 276.43,318.99 281.29,265.36 286.16,270.4 291.03,273.51 295.89,256.32 300.76,290.77 305.62,246.33 310.49,252.84 315.36,255.46 320.22,246.45 325.09,248.5 329.95,241.91 334.82,245.6 339.69,243.6 344.55,231.85 349.42,227.38 354.28,224.23 359.15,228.94 364.02,230.74 368.88,236.28 373.75,227.97 378.61,230.25 383.48,228.77 388.35,233.32 393.21,241.33 398.08,229.84 402.94,224.99"/>
<polyline points="242.37,251.77 247.23,256.07 252.1,270.76 256.96,250.49 261.83,247.76 266.7,247.47 271.56,248.9 276.43,273.81 281.29,243.17 286.16,262.26 291.03,261.8 295.89,237.43 300.76,261.8 305.62,233.13 310.49,250.63 315.36,246.03 320.22,244.64 325.09,244.78 329.95,237.43 334.82,242.45 339.69,243.52 344.55,234.64 349.42,227.15 354.28,222.89 359.15,223.1 364.02,225.82 368.88,229.87 373.75,225.97 378.61,224.95 383.48,226.75 388.35,230.96 393.21,240.12 398.08,228.64 402.94,221.75"/>
</g>
<polyline points="242.1,277.01 243.95,276.5 245.79,275.99 247.64,275.48 249.48,274.92 251.32,274.36 253.17,273.8 255.01,273.2 256.86,272.6 258.7,272 260.54,271.38 262.39,270.76 264.23,270.13" fill="none" stroke="#0000ff" stroke-width="1.95" stroke-linecap="round"/>
<polyline points="294.91,260.68 297.25,259.87 299.59,259.06 301.93,258.26 304.27,257.46 306.61,256.66 308.95,255.87 311.29,255.08 313.64,254.29 315.98,253.5 318.32,252.72 320.66,251.93 323,251.15" fill="none" stroke="#0000ff" stroke-width="1.95" stroke-linecap="round"/>
<polyline points="323,249.45 329.62,247.24 336.23,245.03 342.85,242.81 349.47,240.58 356.09,238.33 362.7,236.09 369.32,233.86 375.94,231.67 382.55,229.56 389.17,227.57 395.79,225.76 402.41,224.2" fill="none" stroke="#0000ff" stroke-width="1.95" stroke-linecap="round"/>
<polyline points="242.1,277.61 247.63,276.08 253.16,274.4 258.69,272.61 264.23,270.73 269.76,268.81 275.29,266.87 280.82,264.91 286.35,262.96 291.88,261.03 297.41,259.11 302.94,257.21 308.47,255.33 314,253.46 319.53,251.61 325.06,249.76 330.59,247.92 336.12,246.07 341.66,244.21 347.19,242.35 352.72,240.48 358.25,238.6 363.78,236.72 369.31,234.86 374.84,233.03 380.37,231.24 385.9,229.52 391.43,227.91 396.96,226.45 402.49,225.18" fill="none" stroke="#00ff00" stroke-width="1.95" stroke-linejoin="round" stroke-linecap="round"/>
<polyline points="242.1,266.02 247.63,264.67 253.16,263.47 258.69,262.37 264.23,261.33 269.76,260.32 275.29,259.32 280.82,258.29 286.35,257.22 291.88,256.09 297.41,254.89 302.94,253.6 308.47,252.23 314,250.77 319.53,249.22 325.06,247.59 330.59,245.88 336.12,244.1 341.66,242.26 347.19,240.37 352.72,238.46 358.25,236.52 363.78,234.59 369.31,232.68 374.84,230.81 380.37,228.99 385.9,227.26 391.43,225.63 396.96,224.12 402.49,222.75" fill="none" stroke="#ff0000" stroke-width="1.95" stroke-linejoin="round" stroke-linecap="round"/>
<path d="M235.5,197.4V360.5" stroke="#404040" stroke-width="1.15" fill="none"/>
<path d="M237.5,360.5H407.81" stroke="#404040" stroke-width="1.15" fill="none"/>
<path d="M237.5,360.5v5.2M261.83,360.5v5.2M286.16,360.5v5.2M310.49,360.5v5.2M334.82,360.5v5.2M359.15,360.5v5.2M383.48,360.5v5.2M407.81,360.5v5.2M235.5,197.4h-5.6M235.5,246h-5.6M235.5,295.7h-5.6M235.5,345.4h-5.6" stroke="#404040" stroke-width="1.15" fill="none"/>
<g font-size="8.5" fill="#1a1a1a" stroke="#1a1a1a" stroke-width="0.2">
<text x="224.7" y="200.7" text-anchor="end">5.5</text>
<text x="224.7" y="249.3" text-anchor="end">5.0</text>
<text x="224.7" y="299" text-anchor="end">4.5</text>
<text x="224.7" y="348.7" text-anchor="end">4.0</text>
<text x="237.2" y="379.3" text-anchor="middle">1980</text>
<text x="285.86" y="379.3" text-anchor="middle">1990</text>
<text x="334.52" y="379.3" text-anchor="middle">2000</text>
<text x="383.18" y="379.3" text-anchor="middle">2010</text>
</g>
<text x="321.45" y="207.1" text-anchor="middle" font-size="9.9" font-weight="bold" fill="#111" stroke="#111" stroke-width="0.15">District 19050</text>
</g>
<g>
<g fill="none" stroke="#acacac" stroke-width="0.45" stroke-linejoin="round">
<polyline points="435.17,244.26 440.03,251.8 444.9,279.16 449.76,255.4 454.63,247.86 459.5,245.81 464.36,254.79 469.23,300.09 474.09,249.5 478.96,251.59 483.83,253.25 488.69,237.87 493.56,268.01 498.42,233.79 503.29,253.47 508.16,241.97 513.02,240.64 517.89,233.47 522.75,233.19 527.62,235.68 532.49,228.13 537.35,221.09 542.22,221.04 547.08,223.4 551.95,235.81 556.82,223.56 561.68,225.5 566.55,223.29 571.41,219.57 576.28,224.36 581.15,223.77 586.01,234.13 590.88,222.35 595.74,217.12"/>
<polyline points="435.17,245.21 440.03,247.27 444.9,256.81 449.76,243.17 454.63,243.38 459.5,238.78 464.36,252.25 469.23,291.79 474.09,245.7 478.96,248.34 483.83,261.11 488.69,243.06 493.56,272.56 498.42,236.99 503.29,254.08 508.16,240.61 513.02,238.59 517.89,235.55 522.75,237.89 527.62,240.3 532.49,229.02 537.35,219.56 542.22,222.49 547.08,228.41 551.95,247.91 556.82,230.03 561.68,228.55 566.55,224.84 571.41,225.54 576.28,227.56 581.15,228.04 586.01,242.97 590.88,226.54 595.74,221.67"/>
<polyline points="435.17,249.1 440.03,253.51 444.9,272.62 449.76,249.68 454.63,244.72 459.5,241.96 464.36,254.05 469.23,328.1 474.09,256.32 478.96,256.07 483.83,265.94 488.69,249.69 493.56,283.3 498.42,247.05 503.29,252.12 508.16,241.2 513.02,237.6 517.89,234.42 522.75,235.61 527.62,238.84 532.49,236 537.35,224.77 542.22,224.15 547.08,230.27 551.95,246.16 556.82,229.21 561.68,226.05 566.55,223.9 571.41,223.98 576.28,226.7 581.15,229.86 586.01,241.91 590.88,225.76 595.74,218.39"/>
<polyline points="435.17,249.2 440.03,253.23 444.9,289.98 449.76,256.3 454.63,250.33 459.5,247.47 464.36,257.88 469.23,339.63 474.09,261.8 478.96,254.59 483.83,269.04 488.69,244.19 493.56,277.63 498.42,239.51 503.29,254.14 508.16,242.7 513.02,239.37 517.89,237.86 522.75,238.33 527.62,236.78 532.49,232.33 537.35,226.65 542.22,225.47 547.08,229.07 551.95,243.83 556.82,227.81 561.68,228.31 566.55,225.97 571.41,225.93 576.28,236 581.15,227.91 586.01,241.23 590.88,227.42 595.74,220.06"/>
<polyline points="435.17,239.13 440.03,243.17 444.9,262.27 449.76,243.9 454.63,240.59 459.5,238 464.36,247.68 469.23,258.93 474.09,241.73 478.96,243.17 483.83,252.67 488.69,240.62 493.56,264.37 498.42,235.39 503.29,252.53 508.16,240.97 513.02,238.31 517.89,234.68 522.75,233.48 527.62,234.24 532.49,220.23 537.35,213.93 542.22,218.8 547.08,219.35 551.95,230.61 556.82,221.92 561.68,222.18 566.55,221.2 571.41,219.13 576.28,227.76 581.15,223.06 586.01,244.1 590.88,225.02 595.74,219.44"/>
<polyline points="435.17,246.32 440.03,255.87 444.9,271.12 449.76,245.41 454.63,242.28 459.5,238.56 464.36,248.21 469.23,283.48 474.09,247.3 478.96,245.72 483.83,250.33 488.69,236 493.56,250.33 498.42,231.31 503.29,246.26 508.16,236.9 513.02,236.51 517.89,229.45 522.75,234.4 527.62,237.93 532.49,230.96 537.35,221.8 542.22,223.13 547.08,220.89 551.95,234.97 556.82,222.24 561.68,223.81 566.55,220.31 571.41,218.43 576.28,227.44 581.15,225.57 586.01,242.23 590.88,225.49 595.74,219.31"/>
<polyline points="435.17,242.67 440.03,253.15 444.9,276.62 449.76,246.4 454.63,240.3 459.5,237.52 464.36,245.3 469.23,284.41 474.09,248.07 478.96,248.87 483.83,258.41 488.69,238.59 493.56,251.32 498.42,227.4 503.29,244.6 508.16,236 513.02,234.57 517.89,227.4 522.75,230.27 527.62,233.88 532.49,226.84 537.35,214.31 542.22,220.14 547.08,214.5 551.95,225.97 556.82,221.67 561.68,223.1 566.55,220.94 571.41,215.8 576.28,219.12 581.15,220.23 586.01,224.53 590.88,218.8 595.74,216.05"/>
<polyline points="435.17,238.29 440.03,243.28 444.9,250.33 449.76,249.6 454.63,243.31 459.5,237.43 464.36,244.6 469.23,276.58 474.09,245.44 478.96,248.36 483.83,255.77 488.69,244.15 493.56,266.7 498.42,230.64 503.29,249.47 508.16,239.8 513.02,237.28 517.89,229.03 522.75,232.64 527.62,233.13 532.49,221.15 537.35,216.64 542.22,222.9 547.08,216.21 551.95,234.23 556.82,224.14 561.68,221.67 566.55,220.23 571.41,215.36 576.28,218.8 581.15,223.67 586.01,235.9 590.88,220.71 595.74,215.93"/>
<polyline points="435.17,246.89 440.03,253.85 444.9,291.9 449.76,258.93 454.63,246.16 459.5,243.71 464.36,252.49 469.23,292.19 474.09,252.88 478.96,250.62 483.83,256.25 488.69,239.38 493.56,263.94 498.42,231.76 503.29,257.82 508.16,245.2 513.02,239.66 517.89,234.03 522.75,236.29 527.62,237.91 532.49,234.35 537.35,222.28 542.22,222.91 547.08,228.84 551.95,242.51 556.82,227.14 561.68,227.59 566.55,223.83 571.41,221.76 576.28,230.71 581.15,227.95 586.01,250.95 590.88,228.51 595.74,219.49"/>
<polyline points="435.17,250.33 440.03,258.93 444.9,284.19 449.76,255.74 454.63,250.13 459.5,246.43 464.36,261.8 469.23,352.1 474.09,260.15 478.96,254.49 483.83,271.83 488.69,250.33 493.56,280.52 498.42,247.47 503.29,261.8 508.16,247.47 513.02,243.17 517.89,240.3 522.75,238.87 527.62,239.57 532.49,232.46 537.35,227.4 542.22,227.4 547.08,229.74 551.95,253.2 556.82,231.7 561.68,230.27 566.55,225.43 571.41,225.97 576.28,235.09 581.15,236 586.01,254.63 590.88,233.13 595.74,219.88"/>
</g>
<polyline points="435.1,262.42 435.39,262.34 435.69,262.26 435.98,262.18 436.27,262.1 436.56,262.02 436.85,261.94 437.14,261.86 437.43,261.78 437.73,261.7 438.02,261.62 438.31,261.54 438.6,261.46" fill="none" stroke="#0000ff" stroke-width="1.95" stroke-linecap="round"/>
<polyline points="490.77,247 491.51,246.82 492.25,246.63 493,246.45 493.74,246.27 494.48,246.08 495.22,245.9 495.96,245.72 496.7,245.54 497.44,245.36 498.18,245.18 498.92,245 499.66,244.81" fill="none" stroke="#0000ff" stroke-width="1.95" stroke-linecap="round"/>
<polyline points="578.21,223.81 579.64,223.36 581.07,222.92 582.51,222.48 583.94,222.04 585.37,221.63 586.81,221.22 588.24,220.81 589.67,220.4 591.11,220.03 592.54,219.67 593.97,219.31 595.41,218.95" fill="none" stroke="#0000ff" stroke-width="1.95" stroke-linecap="round"/>
<polyline points="435.1,262.92 440.63,261.4 446.16,259.82 451.69,258.22 457.23,256.62 462.76,255.03 468.29,253.49 473.82,251.98 479.35,250.51 484.88,249.08 490.41,247.69 495.94,246.32 501.47,244.97 507,243.63 512.53,242.27 518.06,240.89 523.59,239.48 529.12,238.03 534.66,236.53 540.19,234.97 545.72,233.34 551.25,231.66 556.78,229.93 562.31,228.15 567.84,226.35 573.37,224.55 578.9,222.79 584.43,221.09 589.96,219.52 595.49,218.12" fill="none" stroke="#00ff00" stroke-width="1.95" stroke-linejoin="round" stroke-linecap="round"/>
<polyline points="435.1,254.25 440.63,253.53 446.16,252.8 451.69,252.04 457.23,251.27 462.76,250.47 468.29,249.64 473.82,248.78 479.35,247.88 484.88,246.94 490.41,245.95 495.94,244.91 501.47,243.8 507,242.63 512.53,241.39 518.06,240.08 523.59,238.69 529.12,237.23 534.66,235.7 540.19,234.1 545.72,232.43 551.25,230.71 556.78,228.95 562.31,227.15 567.84,225.34 573.37,223.54 578.9,221.77 584.43,220.05 589.96,218.42 595.49,216.91" fill="none" stroke="#ff0000" stroke-width="1.95" stroke-linejoin="round" stroke-linecap="round"/>
<path d="M428.6,196.6V360.5" stroke="#404040" stroke-width="1.15" fill="none"/>
<path d="M430.3,360.5H600.61" stroke="#404040" stroke-width="1.15" fill="none"/>
<path d="M430.3,360.5v5.2M454.63,360.5v5.2M478.96,360.5v5.2M503.29,360.5v5.2M527.62,360.5v5.2M551.95,360.5v5.2M576.28,360.5v5.2M600.61,360.5v5.2M428.6,196.6h-5.6M428.6,234.6h-5.6M428.6,272.6h-5.6M428.6,310.6h-5.6M428.6,348.6h-5.6" stroke="#404040" stroke-width="1.15" fill="none"/>
<g font-size="8.5" fill="#1a1a1a" stroke="#1a1a1a" stroke-width="0.2">
<text x="417.8" y="199.9" text-anchor="end">5.5</text>
<text x="417.8" y="237.9" text-anchor="end">5.0</text>
<text x="417.8" y="275.9" text-anchor="end">4.5</text>
<text x="417.8" y="313.9" text-anchor="end">4.0</text>
<text x="417.8" y="351.9" text-anchor="end">3.5</text>
<text x="430" y="379.3" text-anchor="middle">1980</text>
<text x="478.66" y="379.3" text-anchor="middle">1990</text>
<text x="527.32" y="379.3" text-anchor="middle">2000</text>
<text x="575.98" y="379.3" text-anchor="middle">2010</text>
</g>
<text x="514.4" y="207.1" text-anchor="middle" font-size="9.9" font-weight="bold" fill="#111" stroke="#111" stroke-width="0.15">District 19060</text>
</g>
<g>
<g fill="none" stroke="#acacac" stroke-width="0.45" stroke-linejoin="round">
<polyline points="48.97,456 53.83,471.65 58.7,476.38 63.56,457.67 68.43,445.15 73.3,445 78.16,459.85 83.03,502.61 87.89,459.93 92.76,445.66 97.63,450.19 102.49,438.01 107.36,488.73 112.22,448.42 117.09,469.54 121.96,455.44 126.82,455.08 131.69,448.29 136.55,442.44 141.42,453.37 146.29,438.35 151.15,443.91 156.02,432.84 160.88,418.12 165.75,430.61 170.62,435.44 175.48,436.75 180.35,428.88 185.21,420.3 190.08,438.78 194.95,430.49 199.81,457.26 204.68,426.5 209.54,412.06"/>
<polyline points="48.97,465.6 53.83,485.33 58.7,490.54 63.56,465.18 68.43,450.4 73.3,446.02 78.16,451.08 83.03,478.15 87.89,450.68 92.76,451.34 97.63,442.83 102.49,440.56 107.36,482.59 112.22,450.1 117.09,471.25 121.96,445.94 126.82,448.3 131.69,452.65 136.55,448.45 141.42,452.98 146.29,447.77 151.15,447.05 156.02,435.53 160.88,424.2 165.75,429.61 170.62,435.11 175.48,439.06 180.35,435.36 185.21,422.62 190.08,436.42 194.95,437.4 199.81,462.14 204.68,436.79 209.54,422.23"/>
<polyline points="48.97,459.84 53.83,476.51 58.7,484.87 63.56,463.42 68.43,445.66 73.3,439.03 78.16,444.43 83.03,494.25 87.89,458.39 92.76,449.03 97.63,444.81 102.49,435.46 107.36,471.46 112.22,441.39 117.09,454.99 121.96,450.94 126.82,453.47 131.69,449.55 136.55,444.63 141.42,446.95 146.29,439.8 151.15,449.33 156.02,432.22 160.88,425.77 165.75,435.22 170.62,440.11 175.48,436.19 180.35,432.82 185.21,428.81 190.08,436.56 194.95,430.99 199.81,456.4 204.68,436.9 209.54,419.45"/>
<polyline points="48.97,460.62 53.83,471.13 58.7,489.03 63.56,472.61 68.43,454.09 73.3,444.92 78.16,448.21 83.03,466.27 87.89,448.19 92.76,441.9 97.63,445.78 102.49,433.3 107.36,457.67 112.22,433.3 117.09,456.02 121.96,445.68 126.82,447.6 131.69,440.88 136.55,439.22 141.42,442.98 146.29,435.83 151.15,443.23 156.02,423.27 160.88,411.8 165.75,423.27 170.62,429 175.48,432.72 180.35,424.6 185.21,413.51 190.08,426.13 194.95,423.27 199.81,431.87 204.68,426.46 209.54,413.24"/>
<polyline points="48.97,459 53.83,479.21 58.7,499.2 63.56,463.78 68.43,447.75 73.3,445.37 78.16,443.33 83.03,499.51 87.89,458.62 92.76,450.48 97.63,451.47 102.49,438.54 107.36,502.27 112.22,448.87 117.09,474.85 121.96,451.73 126.82,452.51 131.69,446.1 136.55,444.4 141.42,452.74 146.29,439.14 151.15,445.81 156.02,433.69 160.88,427.66 165.75,438.92 170.62,440.73 175.48,444.35 180.35,431.82 185.21,422.37 190.08,441.34 194.95,441.29 199.81,463.13 204.68,437.81 209.54,425.15"/>
<polyline points="48.97,460.38 53.83,475.29 58.7,511.66 63.56,464.93 68.43,452.66 73.3,441.62 78.16,449.3 83.03,479.97 87.89,450.9 92.76,444.25 97.63,441.15 102.49,434.03 107.36,470.77 112.22,434.51 117.09,463.66 121.96,451.77 126.82,448.06 131.69,445.72 136.55,445.05 141.42,445.96 146.29,440.42 151.15,449.12 156.02,430.88 160.88,422.78 165.75,431.47 170.62,439.44 175.48,445.16 180.35,437.02 185.21,421.02 190.08,442.12 194.95,435.19 199.81,454.63 204.68,434.35 209.54,418.2"/>
<polyline points="48.97,468.16 53.83,483.23 58.7,503.1 63.56,473.87 68.43,451.52 73.3,445.2 78.16,454.69 83.03,508.37 87.89,461.29 92.76,451.76 97.63,460.42 102.49,460.53 107.36,498.92 112.22,457.65 117.09,502.9 121.96,458.55 126.82,451.68 131.69,450.62 136.55,446.39 141.42,446.65 146.29,438.35 151.15,453.5 156.02,430.11 160.88,425.75 165.75,440.47 170.62,439.06 175.48,443.31 180.35,435.93 185.21,427.09 190.08,438.35 194.95,430.83 199.81,452.19 204.68,438.17 209.54,431.87"/>
<polyline points="48.97,472 53.83,500.67 58.7,543.67 63.56,474.18 68.43,463.4 73.3,454.8 78.16,472 83.03,516.43 87.89,472 92.76,466.27 97.63,463.4 102.49,456.51 107.36,493.59 112.22,468.47 117.09,509.27 121.96,463.4 126.82,457.67 131.69,454.8 136.55,451.93 141.42,452.46 146.29,457.67 151.15,473.43 156.02,443.33 160.88,434.73 165.75,438.9 170.62,443.33 175.48,446.2 180.35,433.67 185.21,424.62 190.08,447.63 194.95,443.33 199.81,477.73 204.68,443.33 209.54,431.27"/>
<polyline points="48.97,454.23 53.83,469.13 58.7,474.87 63.56,457.67 68.43,444.77 73.3,442.08 78.16,447.47 83.03,478.42 87.89,446.2 92.76,442.91 97.63,437.6 102.49,430.43 107.36,473.96 112.22,437.84 117.09,454.8 121.96,443.33 126.82,439.03 131.69,439.03 136.55,439.03 141.42,440.47 146.29,431.87 151.15,442.58 156.02,428.09 160.88,419.41 165.75,429.88 170.62,433.44 175.48,429 180.35,417.53 185.21,411.8 190.08,433.82 194.95,428.58 199.81,441.57 204.68,426.13 209.54,411.8"/>
<polyline points="48.97,469.66 53.83,481.12 58.7,521.18 63.56,480.6 68.43,457.44 73.3,454.8 78.16,464.83 83.03,509.69 87.89,456.38 92.76,448.98 97.63,452.35 102.49,451.9 107.36,515 112.22,472 117.09,506 121.96,463.02 126.82,456.94 131.69,449.86 136.55,446.01 141.42,449.32 146.29,439.16 151.15,437.6 156.02,434.93 160.88,423.97 165.75,436.63 170.62,440.36 175.48,445.06 180.35,437.6 185.21,431.87 190.08,444.62 194.95,440.88 199.81,460.25 204.68,441.74 209.54,429.74"/>
</g>
<polyline points="163.25,440.52 165.31,439.9 167.36,439.26 169.42,438.62 171.47,437.98 173.53,437.32 175.58,436.67 177.63,436 179.69,435.34 181.74,434.67 183.8,434 185.85,433.33 187.91,432.66" fill="none" stroke="#0000ff" stroke-width="1.95" stroke-linecap="round"/>
<polyline points="49.1,471.49 54.63,470.16 60.16,468.69 65.69,467.11 71.23,465.48 76.76,463.83 82.29,462.17 87.82,460.54 93.35,458.93 98.88,457.35 104.41,455.82 109.94,454.31 115.47,452.83 121,451.38 126.53,449.93 132.06,448.47 137.59,447.01 143.12,445.51 148.66,443.99 154.19,442.41 159.72,440.79 165.25,439.12 170.78,437.4 176.31,435.63 181.84,433.84 187.37,432.03 192.9,430.24 198.43,428.5 203.96,426.85 209.49,425.34" fill="none" stroke="#00ff00" stroke-width="1.95" stroke-linejoin="round" stroke-linecap="round"/>
<polyline points="49.1,463.12 54.63,461.94 60.16,460.91 65.69,460 71.23,459.16 76.76,458.37 82.29,457.59 87.82,456.79 93.35,455.96 98.88,455.08 104.41,454.13 109.94,453.11 115.47,452 121,450.81 126.53,449.53 132.06,448.16 137.59,446.7 143.12,445.17 148.66,443.56 154.19,441.89 159.72,440.16 165.25,438.39 170.78,436.59 176.31,434.76 181.84,432.93 187.37,431.1 192.9,429.28 198.43,427.49 203.96,425.74 209.49,424.04" fill="none" stroke="#ff0000" stroke-width="1.95" stroke-linejoin="round" stroke-linecap="round"/>
<path d="M43,389.7V553.7" stroke="#404040" stroke-width="1.15" fill="none"/>
<path d="M44.1,553.7H214.41" stroke="#404040" stroke-width="1.15" fill="none"/>
<path d="M44.1,553.7v5.2M68.43,553.7v5.2M92.76,553.7v5.2M117.09,553.7v5.2M141.42,553.7v5.2M165.75,553.7v5.2M190.08,553.7v5.2M214.41,553.7v5.2M43,389.7h-5.6M43,435.1h-5.6M43,480.4h-5.6M43,525.8h-5.6" stroke="#404040" stroke-width="1.15" fill="none"/>
<g font-size="8.5" fill="#1a1a1a" stroke="#1a1a1a" stroke-width="0.2">
<text x="32.2" y="393" text-anchor="end">5.5</text>
<text x="32.2" y="438.4" text-anchor="end">5.0</text>
<text x="32.2" y="483.7" text-anchor="end">4.5</text>
<text x="32.2" y="529.1" text-anchor="end">4.0</text>
<text x="43.8" y="572.5" text-anchor="middle">1980</text>
<text x="92.46" y="572.5" text-anchor="middle">1990</text>
<text x="141.12" y="572.5" text-anchor="middle">2000</text>
<text x="189.78" y="572.5" text-anchor="middle">2010</text>
</g>
<text x="128.5" y="400.8" text-anchor="middle" font-size="9.9" font-weight="bold" fill="#111" stroke="#111" stroke-width="0.15">District 19070</text>
</g>
<g>
<g fill="none" stroke="#acacac" stroke-width="0.45" stroke-linejoin="round">
<polyline points="242.37,429.47 247.23,454.78 252.1,495 256.96,445.11 261.83,434.82 266.7,421.43 271.56,435.74 276.43,484.61 281.29,451.03 286.16,432.86 291.03,429.68 295.89,426.13 300.76,472.33 305.62,412.18 310.49,434.46 315.36,421.83 320.22,424.01 325.09,429.3 329.95,432.79 334.82,425.7 339.69,422.78 344.55,428.42 349.42,425.71 354.28,414.7 359.15,409.88 364.02,415.33 368.88,412.41 373.75,425.79 378.61,424.62 383.48,414.67 388.35,414.67 393.21,433.73 398.08,429.1 402.94,414.14"/>
<polyline points="242.37,429.37 247.23,450.15 252.1,499.96 256.96,447.48 261.83,422.18 266.7,425.31 271.56,439.25 276.43,470.2 281.29,433.86 286.16,430.61 291.03,426.13 295.89,417.53 300.76,443.33 305.62,412.82 310.49,431.87 315.36,424.4 320.22,418.65 325.09,417.53 329.95,416.1 334.82,420.4 339.69,416.1 344.55,418.97 349.42,421.47 354.28,412.39 359.15,407.01 364.02,413.18 368.88,410.2 373.75,420.88 378.61,420.41 383.48,434.24 388.35,419.98 393.21,439.47 398.08,420.91 402.94,408.11"/>
<polyline points="242.37,428.44 247.23,454.73 252.1,484.11 256.96,437.76 261.83,433.86 266.7,424.03 271.56,443.07 276.43,476.55 281.29,452.8 286.16,437.79 291.03,432.78 295.89,434.19 300.76,476.3 305.62,417.03 310.49,454.57 315.36,426.2 320.22,417.53 325.09,420.22 329.95,423.67 334.82,423.58 339.69,425.82 344.55,430.01 349.42,426.45 354.28,413.06 359.15,411.3 364.02,415.82 368.88,415.62 373.75,418.17 378.61,417.84 383.48,425.33 388.35,443.33 393.21,490.63 398.08,435.78 402.94,410.7"/>
<polyline points="242.37,435.22 247.23,469.4 252.1,545.1 256.96,462.04 261.83,438.82 266.7,427.53 271.56,440.97 276.43,499.23 281.29,469.29 286.16,456.09 291.03,443.87 295.89,434.19 300.76,494.93 305.62,437.6 310.49,466.27 315.36,437.6 320.22,434.73 325.09,434.73 329.95,433.3 334.82,431.87 339.69,429 344.55,436.17 349.42,437.6 354.28,420.4 359.15,417.53 364.02,421.83 368.88,423.27 373.75,421.29 378.61,431.65 383.48,452.16 388.35,426.04 393.21,473.8 398.08,436.83 402.94,421.51"/>
<polyline points="242.37,423.27 247.23,436.17 252.1,454.8 256.96,439.09 261.83,420.4 266.7,420.18 271.56,441.29 276.43,479.46 281.29,430.87 286.16,430.73 291.03,426.16 295.89,420.98 300.76,465.76 305.62,410.37 310.49,442.64 315.36,428.4 320.22,417.98 325.09,420.64 329.95,421.01 334.82,421.96 339.69,419.64 344.55,422.06 349.42,420.4 354.28,404.63 359.15,406.07 364.02,412.26 368.88,411.42 373.75,411.69 378.61,412.31 383.48,416.13 388.35,421.96 393.21,426.13 398.08,414.67 402.94,403.77"/>
<polyline points="242.37,430.39 247.23,447.85 252.1,508.51 256.96,433.32 261.83,423.91 266.7,421.6 271.56,426.13 276.43,443.33 281.29,441.38 286.16,437.04 291.03,429.44 295.89,430.63 300.76,471.56 305.62,432.25 310.49,461.42 315.36,433.44 320.22,426.32 325.09,426.97 329.95,424.36 334.82,425.85 339.69,425.84 344.55,433.2 349.42,430.13 354.28,412.82 359.15,406.98 364.02,410.37 368.88,408.93 373.75,408.42 378.61,414.72 383.48,431.61 388.35,417.6 393.21,462.1 398.08,430.26 402.94,407.43"/>
<polyline points="242.37,443.13 247.23,467.79 252.1,540.5 256.96,466.27 261.83,443.33 266.7,431.18 271.56,454.8 276.43,496.34 281.29,464.66 286.16,457.67 291.03,451.93 295.89,443.33 300.76,478.44 305.62,435.32 310.49,459.56 315.36,431.31 320.22,422.32 325.09,427.68 329.95,425.27 334.82,426.93 339.69,424.94 344.55,433.81 349.42,435.36 354.28,415.48 359.15,414.03 364.02,417.59 368.88,420.47 373.75,421.98 378.61,429.92 383.48,446.49 388.35,429.22 393.21,477.98 398.08,443.33 402.94,426.13"/>
<polyline points="242.37,443.33 247.23,472 252.1,499.44 256.96,435.09 261.83,437.83 266.7,440.47 271.56,442.78 276.43,480.3 281.29,453.53 286.16,441.64 291.03,435.31 295.89,433.06 300.76,469.94 305.62,433.56 310.49,442.8 315.36,427.61 320.22,423.62 325.09,429.17 329.95,425.27 334.82,423.85 339.69,422.63 344.55,426.23 349.42,429.09 354.28,418.05 359.15,410.31 364.02,415.08 368.88,413.84 373.75,426.13 378.61,431.87 383.48,460.53 388.35,432.61 393.21,477.18 398.08,435.13 402.94,425.97"/>
<polyline points="242.37,441.51 247.23,448.09 252.1,514.55 256.96,448.21 261.83,429.85 266.7,420.99 271.56,447.61 276.43,493.53 281.29,472 286.16,448.49 291.03,430.45 295.89,425.52 300.76,480.89 305.62,431.11 310.49,462.84 315.36,432.26 320.22,429.66 325.09,430.73 329.95,424.75 334.82,425.89 339.69,424.08 344.55,421.87 349.42,429.84 354.28,417.58 359.15,414.58 364.02,416.61 368.88,415.43 373.75,425.36 378.61,416.45 383.48,415.28 388.35,424.83 393.21,462.19 398.08,438.76 402.94,412.19"/>
<polyline points="242.37,423.45 247.23,451.17 252.1,467.43 256.96,431.87 261.83,421.62 266.7,419.83 271.56,428.66 276.43,471.83 281.29,424.7 286.16,429 291.03,432.21 295.89,426.9 300.76,464.59 305.62,426.11 310.49,447.61 315.36,427.21 320.22,421.98 325.09,424.47 329.95,422.33 334.82,422.37 339.69,421.28 344.55,424.32 349.42,422.44 354.28,410.55 359.15,408.24 364.02,412.46 368.88,410.09 373.75,407.5 378.61,406.07 383.48,426.35 388.35,415.4 393.21,450.39 398.08,424.7 402.94,406.11"/>
</g>
<polyline points="242.1,446.6 243.11,446.48 244.12,446.36 245.13,446.24 246.14,446.12 247.14,446 248.15,445.86 249.16,445.68 250.17,445.51 251.18,445.34 252.18,445.17 253.19,444.99 254.2,444.79" fill="none" stroke="#0000ff" stroke-width="1.95" stroke-linecap="round"/>
<polyline points="302.36,435.89 304.08,435.61 305.8,435.34 307.52,435.07 309.24,434.8 310.96,434.54 312.68,434.28 314.4,434.03 316.12,433.77 317.84,433.52 319.56,433.27 321.28,433.02 323,432.77" fill="none" stroke="#0000ff" stroke-width="1.95" stroke-linecap="round"/>
<polyline points="331.6,429.48 337.5,428.54 343.4,427.54 349.3,426.46 355.2,425.3 361.1,424.07 367,422.8 372.9,421.53 378.8,420.3 384.7,419.19 390.61,418.31 396.51,417.77 402.41,417.72" fill="none" stroke="#0000ff" stroke-width="1.95" stroke-linecap="round"/>
<polyline points="242.1,447.1 247.63,446.44 253.16,445.5 258.69,444.37 264.23,443.14 269.76,441.86 275.29,440.59 280.82,439.37 286.35,438.21 291.88,437.13 297.41,436.13 302.94,435.19 308.47,434.32 314,433.48 319.53,432.67 325.06,431.87 330.59,431.04 336.12,430.17 341.66,429.25 347.19,428.26 352.72,427.2 358.25,426.08 363.78,424.91 369.31,423.7 374.84,422.51 380.37,421.38 385.9,420.38 391.43,419.59 396.96,419.13 402.49,419.12" fill="none" stroke="#00ff00" stroke-width="1.95" stroke-linejoin="round" stroke-linecap="round"/>
<polyline points="242.1,443.09 247.63,442.48 253.16,441.78 258.69,441.03 264.23,440.24 269.76,439.45 275.29,438.66 280.82,437.87 286.35,437.09 291.88,436.32 297.41,435.54 302.94,434.75 308.47,433.93 314,433.07 319.53,432.17 325.06,431.2 330.59,430.15 336.12,429.03 341.66,427.81 347.19,426.51 352.72,425.12 358.25,423.65 363.78,422.12 369.31,420.56 374.84,418.99 380.37,417.45 385.9,415.99 391.43,414.68 396.96,413.59 402.49,412.79" fill="none" stroke="#ff0000" stroke-width="1.95" stroke-linejoin="round" stroke-linecap="round"/>
<path d="M235.5,382.3V553.7" stroke="#404040" stroke-width="1.15" fill="none"/>
<path d="M237.5,553.7H407.81" stroke="#404040" stroke-width="1.15" fill="none"/>
<path d="M237.5,553.7v5.2M261.83,553.7v5.2M286.16,553.7v5.2M310.49,553.7v5.2M334.82,553.7v5.2M359.15,553.7v5.2M383.48,553.7v5.2M407.81,553.7v5.2M235.5,382.3h-5.6M235.5,414.3h-5.6M235.5,446.4h-5.6M235.5,478.5h-5.6M235.5,510.6h-5.6M235.5,542.7h-5.6" stroke="#404040" stroke-width="1.15" fill="none"/>
<g font-size="8.5" fill="#1a1a1a" stroke="#1a1a1a" stroke-width="0.2">
<text x="224.7" y="385.6" text-anchor="end">5.5</text>
<text x="224.7" y="417.6" text-anchor="end">5.0</text>
<text x="224.7" y="449.7" text-anchor="end">4.5</text>
<text x="224.7" y="481.8" text-anchor="end">4.0</text>
<text x="224.7" y="513.9" text-anchor="end">3.5</text>
<text x="224.7" y="546" text-anchor="end">3.0</text>
<text x="237.2" y="572.5" text-anchor="middle">1980</text>
<text x="285.86" y="572.5" text-anchor="middle">1990</text>
<text x="334.52" y="572.5" text-anchor="middle">2000</text>
<text x="383.18" y="572.5" text-anchor="middle">2010</text>
</g>
<text x="321.45" y="400.8" text-anchor="middle" font-size="9.9" font-weight="bold" fill="#111" stroke="#111" stroke-width="0.15">District 19080</text>
</g>
<g>
<g fill="none" stroke="#acacac" stroke-width="0.45" stroke-linejoin="round">
<polyline points="435.17,434.77 440.03,444.1 444.9,532.19 449.76,448.18 454.63,435.03 459.5,441.3 464.36,459.81 469.23,477.01 474.09,464.01 478.96,435.66 483.83,441.7 488.69,436.65 493.56,459.45 498.42,432.29 503.29,451.55 508.16,438.43 513.02,433.93 517.89,434.82 522.75,454.8 527.62,434.38 532.49,428.8 537.35,419 542.22,427.11 547.08,416.81 551.95,420.88 556.82,423.72 561.68,414.77 566.55,422.11 571.41,423.76 576.28,450.62 581.15,435.86 586.01,477.36 590.88,431.09 595.74,423.27"/>
<polyline points="435.17,432.84 440.03,447.31 444.9,493.47 449.76,440.83 454.63,431.45 459.5,430.79 464.36,443.13 469.23,456.57 474.09,468.04 478.96,448.17 483.83,445.06 488.69,437.44 493.56,453.55 498.42,418.97 503.29,437.6 508.16,429.08 513.02,426.4 517.89,424.77 522.75,427.97 527.62,429.58 532.49,427.35 537.35,417.85 542.22,424.37 547.08,415.8 551.95,416.9 556.82,418.2 561.68,413.49 566.55,407.63 571.41,419.42 576.28,437.67 581.15,425.81 586.01,487.77 590.88,416.66 595.74,409.66"/>
<polyline points="435.17,429.18 440.03,436.56 444.9,473.14 449.76,436.21 454.63,429.61 459.5,427.21 464.36,441.77 469.23,474.28 474.09,448.98 478.96,433.83 483.83,437.6 488.69,421.83 493.56,444.54 498.42,424.64 503.29,444.85 508.16,429 513.02,427.36 517.89,428.73 522.75,435.1 527.62,425.53 532.49,430.42 537.35,416.84 542.22,417.53 547.08,406.07 551.95,419.47 556.82,421.97 561.68,412.73 566.55,409.99 571.41,412.61 576.28,417.53 581.15,424.66 586.01,427.28 590.88,416.09 595.74,407.08"/>
<polyline points="435.17,434.81 440.03,444.42 444.9,526.78 449.76,445.26 454.63,431.57 459.5,439.05 464.36,459.14 469.23,491.81 474.09,466.28 478.96,448.62 483.83,446.96 488.69,445.27 493.56,483.47 498.42,440.77 503.29,449.66 508.16,436.46 513.02,438.08 517.89,437.6 522.75,446.01 527.62,435.35 532.49,434.73 537.35,425.57 542.22,429 547.08,420.4 551.95,422.18 556.82,424.03 561.68,419.45 566.55,422.54 571.41,430.14 576.28,447.25 581.15,433.48 586.01,468.96 590.88,429.65 595.74,419.83"/>
<polyline points="435.17,432.44 440.03,448.58 444.9,454.8 449.76,429 454.63,428.2 459.5,434.07 464.36,447.63 469.23,461.14 474.09,446.57 478.96,440.47 483.83,445.84 488.69,434.19 493.56,451.94 498.42,431.77 503.29,454.48 508.16,437.71 513.02,426.13 517.89,426.8 522.75,428.02 527.62,421.83 532.49,420.52 537.35,420.7 542.22,422 547.08,413.95 551.95,416.6 556.82,418.74 561.68,408.79 566.55,408.55 571.41,415.91 576.28,431.39 581.15,427.91 586.01,432.21 590.88,414.67 595.74,411.78"/>
<polyline points="435.17,443.33 440.03,460.53 444.9,545.1 449.76,451.93 454.63,437.6 459.5,443.33 464.36,466.27 469.23,507.83 474.09,469.13 478.96,451.93 483.83,454.8 488.69,449.07 493.56,464.9 498.42,451.93 503.29,473.43 508.16,443.33 513.02,440.47 517.89,435.77 522.75,443.91 527.62,436.17 532.49,434.03 537.35,429 542.22,425.79 547.08,417 551.95,426.13 556.82,426.13 561.68,423.27 566.55,426.13 571.41,431.87 576.28,457.67 581.15,449.07 586.01,480.64 590.88,437.6 595.74,419.59"/>
<polyline points="435.17,433.09 440.03,446.46 444.9,512.3 449.76,437.99 454.63,429.86 459.5,436.35 464.36,454.81 469.23,471.57 474.09,457.33 478.96,445.42 483.83,445.75 488.69,432.67 493.56,443.33 498.42,422.96 503.29,460.35 508.16,435.05 513.02,427.9 517.89,424.7 522.75,429.68 527.62,423.2 532.49,420.91 537.35,416.67 542.22,421.09 547.08,410.45 551.95,417.97 556.82,419.61 561.68,419.63 566.55,422.41 571.41,422.24 576.28,437.26 581.15,436 586.01,455.71 590.88,420.22 595.74,410.21"/>
<polyline points="435.17,432.68 440.03,441.68 444.9,487.91 449.76,444.01 454.63,433.31 459.5,442.15 464.36,460.06 469.23,463.9 474.09,455.95 478.96,448.38 483.83,447.44 488.69,436.47 493.56,459.82 498.42,430.63 503.29,453.8 508.16,434.35 513.02,430.84 517.89,428.52 522.75,445.42 527.62,428.39 532.49,424.65 537.35,418.17 542.22,426.3 547.08,419.74 551.95,420.61 556.82,424.58 561.68,415.89 566.55,420.8 571.41,421.72 576.28,436.89 581.15,430.21 586.01,426.13 590.88,421.9 595.74,408.01"/>
<polyline points="435.17,426.13 440.03,433.3 444.9,486.04 449.76,437.92 454.63,429.26 459.5,423.27 464.36,433.3 469.23,449.07 474.09,434.73 478.96,431.87 483.83,442.22 488.69,433.75 493.56,451.97 498.42,420.49 503.29,448.11 508.16,436.47 513.02,431.63 517.89,427.33 522.75,423.27 527.62,424.45 532.49,423.63 537.35,414.67 542.22,418.83 547.08,408.75 551.95,414.76 556.82,417.53 561.68,404.63 566.55,406.07 571.41,419.46 576.28,422.23 581.15,425.99 586.01,432.71 590.88,418.07 595.74,403.77"/>
<polyline points="435.17,435.87 440.03,450.13 444.9,479.6 449.76,439.93 454.63,427.57 459.5,428.23 464.36,443.11 469.23,460.43 474.09,460.05 478.96,439.77 483.83,439.9 488.69,434.67 493.56,461.77 498.42,430.15 503.29,454.49 508.16,438.54 513.02,430.46 517.89,430.99 522.75,441.44 527.62,428.43 532.49,418.97 537.35,416.1 542.22,422.1 547.08,409.33 551.95,414.67 556.82,420.83 561.68,412.33 566.55,409.92 571.41,408.93 576.28,419.85 581.15,423.27 586.01,453.69 590.88,415.16 595.74,408.24"/>
</g>
<polyline points="435.1,450.93 436.71,450.62 438.31,450.31 439.92,450 441.52,449.68 443.13,449.35 444.73,449.02 446.34,448.69 447.95,448.35 449.55,448 451.16,447.66 452.76,447.31 454.37,446.97" fill="none" stroke="#0000ff" stroke-width="1.95" stroke-linecap="round"/>
<polyline points="435.1,451.53 440.63,450.46 446.16,449.33 451.69,448.15 457.23,446.94 462.76,445.73 468.29,444.53 473.82,443.33 479.35,442.15 484.88,440.98 490.41,439.82 495.94,438.66 501.47,437.49 507,436.32 512.53,435.12 518.06,433.9 523.59,432.65 529.12,431.37 534.66,430.06 540.19,428.72 545.72,427.35 551.25,425.98 556.78,424.62 562.31,423.29 567.84,422.03 573.37,420.87 578.9,419.85 584.43,419.04 589.96,418.5 595.49,418.3" fill="none" stroke="#00ff00" stroke-width="1.95" stroke-linejoin="round" stroke-linecap="round"/>
<polyline points="435.1,446.43 440.63,445.67 446.16,444.94 451.69,444.24 457.23,443.55 462.76,442.86 468.29,442.15 473.82,441.43 479.35,440.67 484.88,439.86 490.41,438.99 495.94,438.05 501.47,437.04 507,435.95 512.53,434.76 518.06,433.48 523.59,432.12 529.12,430.66 534.66,429.12 540.19,427.5 545.72,425.82 551.25,424.1 556.78,422.36 562.31,420.62 567.84,418.91 573.37,417.28 578.9,415.76 584.43,414.4 589.96,413.26 595.49,412.4" fill="none" stroke="#ff0000" stroke-width="1.95" stroke-linejoin="round" stroke-linecap="round"/>
<path d="M428.6,391.1V553.7" stroke="#404040" stroke-width="1.15" fill="none"/>
<path d="M430.3,553.7H600.61" stroke="#404040" stroke-width="1.15" fill="none"/>
<path d="M430.3,553.7v5.2M454.63,553.7v5.2M478.96,553.7v5.2M503.29,553.7v5.2M527.62,553.7v5.2M551.95,553.7v5.2M576.28,553.7v5.2M600.61,553.7v5.2M428.6,391.1h-5.6M428.6,422.8h-5.6M428.6,454.5h-5.6M428.6,486.2h-5.6M428.6,518h-5.6M428.6,549.7h-5.6" stroke="#404040" stroke-width="1.15" fill="none"/>
<g font-size="8.5" fill="#1a1a1a" stroke="#1a1a1a" stroke-width="0.2">
<text x="417.8" y="394.4" text-anchor="end">5.5</text>
<text x="417.8" y="426.1" text-anchor="end">5.0</text>
<text x="417.8" y="457.8" text-anchor="end">4.5</text>
<text x="417.8" y="489.5" text-anchor="end">4.0</text>
<text x="417.8" y="521.3" text-anchor="end">3.5</text>
<text x="417.8" y="553" text-anchor="end">3.0</text>
<text x="430" y="572.5" text-anchor="middle">1980</text>
<text x="478.66" y="572.5" text-anchor="middle">1990</text>
<text x="527.32" y="572.5" text-anchor="middle">2000</text>
<text x="575.98" y="572.5" text-anchor="middle">2010</text>
</g>
<text x="514.4" y="400.8" text-anchor="middle" font-size="9.9" font-weight="bold" fill="#111" stroke="#111" stroke-width="0.15">District 19090</text>
</g>
<text x="322.0" y="592.0" text-anchor="middle" font-size="12.7" fill="#111" stroke="#111" stroke-width="0.2">Year</text>
<text transform="translate(11.1,273.8) rotate(-90)" text-anchor="middle" font-size="12.6" fill="#111" stroke="#111" stroke-width="0.2">Log Yield (bu/acre)</text>
<rect x="477.5" y="500.8" width="121" height="49.4" fill="#fff" stroke="#3a3a3a" stroke-width="1"/>
<path d="M484.3,511.3H500" stroke="#c0c0c0" stroke-width="1"/>
<text x="507.2" y="514.7" font-size="8.45" fill="#1a1a1a" stroke="#1a1a1a" stroke-width="0.2">County yields</text>
<path d="M484.3,521.25H500" stroke="#0000ff" stroke-width="2.4"/>
<text x="507.2" y="524.65" font-size="8.45" fill="#1a1a1a" stroke="#1a1a1a" stroke-width="0.2">Linear trend</text>
<path d="M484.3,531.2H500" stroke="#00ff00" stroke-width="2.4"/>
<text x="507.2" y="534.6" font-size="8.45" fill="#1a1a1a" stroke="#1a1a1a" stroke-width="0.2">Spline trend</text>
<path d="M484.3,541.15H500" stroke="#ff0000" stroke-width="2.4"/>
<text x="507.2" y="544.55" font-size="8.45" fill="#1a1a1a" stroke="#1a1a1a" stroke-width="0.2">Spline trend w/ controls</text>
</svg></body></html>
